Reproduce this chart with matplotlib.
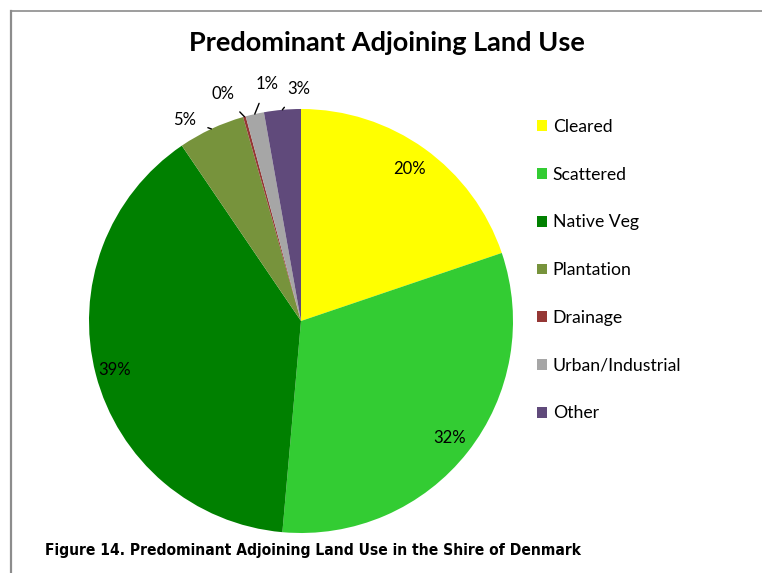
import matplotlib
matplotlib.use("Agg")
import matplotlib.pyplot as plt
from matplotlib.lines import Line2D
from matplotlib.patches import Patch
import numpy as np

categories = ["Cleared", "Scattered", "Native Veg", "Plantation", "Drainage", "Urban/Industrial", "Other"]
values = [19.8, 31.6, 39.1, 5.1, 0.2, 1.4, 2.8]
colors = ["#FFFF00", "#33CC33", "#008000", "#77933C", "#953735", "#A6A6A6", "#604A7B"]
title = "Predominant Adjoining Land Use"
caption = "Figure 14. Predominant Adjoining Land Use in the Shire of Denmark"

plt.rcParams['font.family'] = ['Lato', 'DejaVu Sans']

W, H = 762, 573
fig = plt.figure(figsize=(W / 100, H / 100), dpi=100)

# pie axes: centre (301, 321) px, radius 212 px
cx, cy, R = 301, 321, 212
ax = fig.add_axes([(cx - R) / W, (H - cy - R) / H, 2 * R / W, 2 * R / H])
wedges, _ = ax.pie(values, colors=colors, startangle=90, counterclock=False,
                   radius=1, wedgeprops=dict(linewidth=0))
ax.set_xlim(-1, 1)
ax.set_ylim(-1, 1)
ax.set_axis_off()

# percentage labels
inside = {0: 0.88, 1: 0.89, 2: 0.91}
outside = {3: (-0.55, 0.95), 4: (-0.37, 1.07), 5: (-0.16, 1.12), 6: (-0.01, 1.095)}
for i, w in enumerate(wedges):
    mid = np.deg2rad((w.theta1 + w.theta2) / 2)
    txt = "%d%%" % round(values[i])
    if i in inside:
        r = inside[i]
        ax.text(r * np.cos(mid), r * np.sin(mid), txt, ha='center', va='center', fontsize=12)
    else:
        ex, ey = np.cos(mid), np.sin(mid)
        ax.annotate(txt, xy=(ex, ey), xytext=outside[i], ha='center', va='center',
                    fontsize=12, annotation_clip=False,
                    arrowprops=dict(arrowstyle='-', color='black', lw=1, shrinkA=7, shrinkB=0))

fig.text(387 / W, 1 - 43 / H, title, ha='center', va='center', fontsize=19.5, fontweight='bold')

handles = [Patch(facecolor=c, edgecolor='none') for c in colors]
fig.legend(handles, categories, loc='upper left', bbox_to_anchor=(537 / W, 1 - 119 / H),
           frameon=False, fontsize=12.7, handlelength=0.55, handleheight=0.55,
           handletextpad=0.35, labelspacing=1.8, borderpad=0, borderaxespad=0)

fig.text(45 / W, 1 - 551 / H, caption, ha='left', va='center', fontsize=11.2, fontweight='bold',
         family='DejaVu Sans', stretch='condensed')

# chart border (top and left)
fig.add_artist(Line2D([11 / W, 1], [1 - 11 / H, 1 - 11 / H], color='#8c8c8c', lw=1.2))
fig.add_artist(Line2D([11 / W, 11 / W], [0, 1 - 11 / H], color='#8c8c8c', lw=1.6))

fig.savefig("out.png", dpi=100)
